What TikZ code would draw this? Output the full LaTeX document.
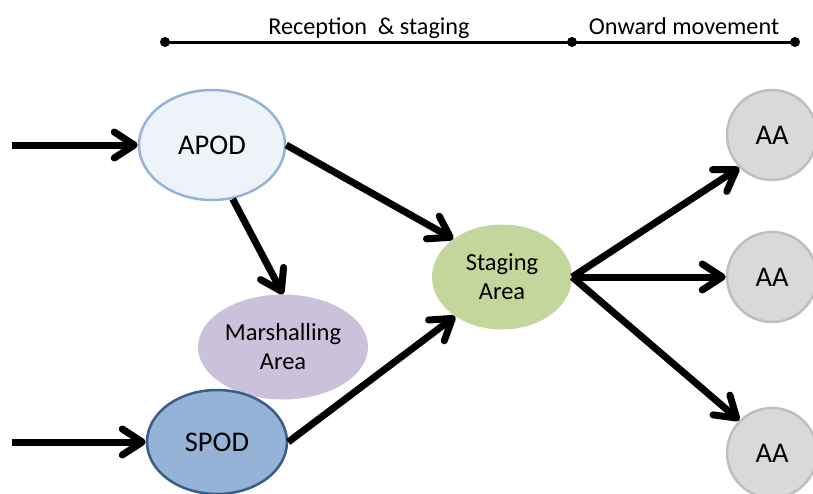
\documentclass[tikz,border=0pt]{standalone}
\usepackage{fontspec}
\setmainfont{Carlito}
\usetikzlibrary{shapes.geometric,arrows.meta}
\definecolor{apodfill}{HTML}{EEF3FA}
\definecolor{apodline}{HTML}{95B3D7}
\definecolor{spodfill}{HTML}{95B3D7}
\definecolor{spodline}{HTML}{385D8A}
\definecolor{marshfill}{HTML}{CCC1DA}
\definecolor{stagfill}{HTML}{C3D69B}
\definecolor{aafill}{HTML}{D9D9D9}
\definecolor{aaline}{HTML}{BFBFBF}
\tikzset{
  blob/.style={ellipse, inner sep=0pt, align=center, text=black},
  bigtext/.style={font=\fontsize{28.5}{34}\selectfont},
  midtext/.style={font=\fontsize{24.5}{29}\selectfont},
  toptext/.style={font=\fontsize{24.2}{29}\selectfont, anchor=base, inner sep=0pt},
  flow/.style={line width=7pt, -{Straight Barb[length=20pt,width=26pt,round]}},
  dotend/.style={circle, fill=black, inner sep=0pt, minimum size=10pt},
}
\begin{document}
\begin{tikzpicture}[x=1pt,y=-1pt]
\useasboundingbox (0,0) rectangle (813,493);
% timeline
\node[dotend] (t1) at (165,42) {};
\node[dotend] (t2) at (572,42) {};
\node[dotend] (t3) at (795,42) {};
\draw[line width=3pt] (t1.center) -- (t2.center) -- (t3.center);
\node[toptext] (lab1) at (369,34.5) {Reception \ \& staging};
\node[toptext] (lab2) at (684,34.5) {Onward movement};
% nodes
\node[blob, bigtext, fill=apodfill, draw=apodline, line width=2.5pt,
      minimum width=146pt, minimum height=110pt] (apod) at (212,145) {APOD};
\node[blob, midtext, fill=marshfill, minimum width=170pt, minimum height=105pt]
      (marsh) at (283,347) {Marshalling\\Area};
\node[blob, bigtext, fill=spodfill, draw=spodline, line width=2.5pt,
      minimum width=140pt, minimum height=104pt] (spod) at (217,442) {SPOD};
\node[blob, midtext, fill=stagfill, minimum width=140pt, minimum height=105pt]
      (stag) at (502,277) {Staging\\Area};
\node[blob, bigtext, fill=aafill, draw=aaline, line width=2.5pt,
      minimum width=90pt, minimum height=90pt] (aa1) at (772,135) {AA};
\node[blob, bigtext, fill=aafill, draw=aaline, line width=2.5pt,
      minimum width=90pt, minimum height=90pt] (aa2) at (772,277) {AA};
\node[blob, bigtext, fill=aafill, draw=aaline, line width=2.5pt,
      minimum width=90pt, minimum height=90pt] (aa3) at (772,453) {AA};
% free ends
\coordinate (inA) at (12,145);
\coordinate (inS) at (12,442);
% connectors
\draw[flow] (inA) -- (apod.west);
\draw[flow] (inS) -- (spod.west);
\draw[flow] (apod.east) -- (stag.142);
\draw[flow] (apod.-69) -- (marsh.north);
\draw[flow] (spod.east) -- (stag.220);
\draw[flow] (stag.east) -- (aa1.225);
\draw[flow] (stag.east) -- (aa2.west);
\draw[flow] (stag.east) -- (aa3.135);
\end{tikzpicture}
\end{document}
